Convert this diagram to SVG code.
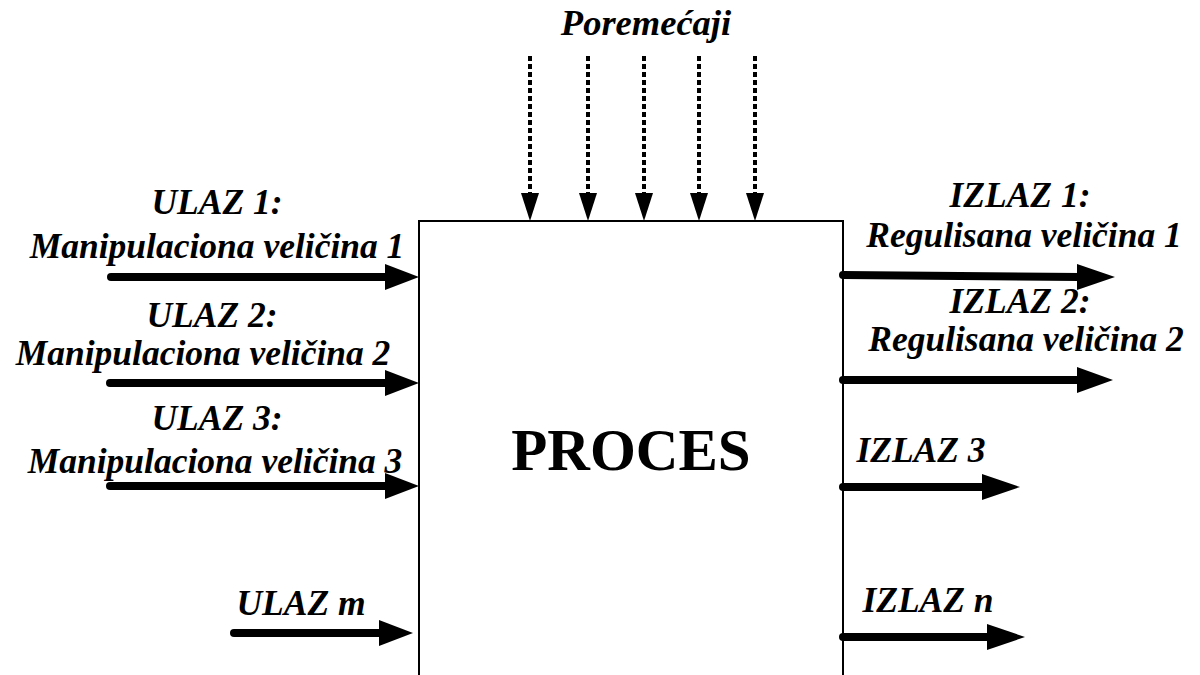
<svg xmlns="http://www.w3.org/2000/svg" width="1200" height="675" viewBox="0 0 1200 675">
  <defs>
    <style>
      .lbl { font-family: "Liberation Serif", "Times New Roman", serif; font-weight: bold; font-style: italic; font-size: 35.5px; fill: #000; }
      .title { font-family: "Liberation Serif", "Times New Roman", serif; font-weight: bold; font-size: 59px; fill: #000; }
      .flow { stroke: #000; stroke-width: 8; stroke-linecap: round; fill: none; }
      .dist { stroke: #000; stroke-width: 4; stroke-dasharray: 5 3; fill: none; }
      .head { fill: #000; }
    </style>
  </defs>
  <rect width="1200" height="675" fill="#fff"/>

  <!-- process block (open at the bottom) -->
  <g id="proces">
    <path d="M419 675 V221 H843 V675" fill="none" stroke="#000" stroke-width="2"/>
    <text class="title" x="631" y="470" text-anchor="middle">PROCES</text>
  </g>

  <!-- disturbance label -->
  <g id="poremecaji">
    <text class="lbl" x="646" y="35" text-anchor="middle" style="font-size:36.5px">Poremećaji</text>
  </g>

  <!-- input labels -->
  <g id="ulaz1">
    <text class="lbl" x="217" y="214" text-anchor="middle">ULAZ 1:</text>
    <text class="lbl" x="217" y="258" text-anchor="middle">Manipulaciona veličina 1</text>
  </g>
  <g id="ulaz2">
    <text class="lbl" x="212" y="327" text-anchor="middle">ULAZ 2:</text>
    <text class="lbl" x="203" y="365" text-anchor="middle">Manipulaciona veličina 2</text>
  </g>
  <g id="ulaz3">
    <text class="lbl" x="217" y="430" text-anchor="middle">ULAZ 3:</text>
    <text class="lbl" x="215" y="473" text-anchor="middle">Manipulaciona veličina 3</text>
  </g>
  <g id="ulazm">
    <text class="lbl" x="301" y="615" text-anchor="middle">ULAZ m</text>
  </g>

  <!-- output labels -->
  <g id="izlaz1">
    <text class="lbl" x="1020" y="207" text-anchor="middle">IZLAZ 1:</text>
    <text class="lbl" x="1024" y="247" text-anchor="middle">Regulisana veličina 1</text>
  </g>
  <g id="izlaz2">
    <text class="lbl" x="1020" y="313" text-anchor="middle">IZLAZ 2:</text>
    <text class="lbl" x="1026" y="351" text-anchor="middle">Regulisana veličina 2</text>
  </g>
  <g id="izlaz3">
    <text class="lbl" x="921" y="462" text-anchor="middle">IZLAZ 3</text>
  </g>
  <g id="izlazn">
    <text class="lbl" x="928" y="612" text-anchor="middle">IZLAZ n</text>
  </g>

  <g id="connectors">
    <!-- disturbances entering from above -->
    <g>
      <line class="dist" x1="530" y1="56" x2="530" y2="196"/>
      <polygon class="head" points="521,193 539,193 530,221"/>
      <line class="dist" x1="588" y1="56" x2="588" y2="196"/>
      <polygon class="head" points="579,193 597,193 588,221"/>
      <line class="dist" x1="644" y1="56" x2="644" y2="196"/>
      <polygon class="head" points="635,193 653,193 644,221"/>
      <line class="dist" x1="699" y1="56" x2="699" y2="196"/>
      <polygon class="head" points="690,193 708,193 699,221"/>
      <line class="dist" x1="755" y1="56" x2="755" y2="196"/>
      <polygon class="head" points="746,193 764,193 755,221"/>
    </g>
    <!-- inputs -->
    <g>
      <line class="flow" x1="111" y1="277" x2="388" y2="277"/>
      <polygon class="head" points="385,264 419,277 385,290"/>
      <line class="flow" x1="110" y1="383" x2="388" y2="383"/>
      <polygon class="head" points="385,370 419,383 385,396"/>
      <line class="flow" x1="110" y1="486" x2="388" y2="486"/>
      <polygon class="head" points="385,473 419,486 385,499"/>
      <line class="flow" x1="234" y1="633" x2="382" y2="633"/>
      <polygon class="head" points="379,620 413,633 379,646"/>
    </g>
    <!-- outputs -->
    <g>
      <line class="flow" x1="843" y1="275" x2="1080" y2="277" stroke-linecap="butt"/>
      <polygon class="head" points="1077,264 1115,277 1077,290"/>
      <line class="flow" x1="843" y1="380" x2="1080" y2="380" stroke-linecap="butt"/>
      <polygon class="head" points="1077,367 1113,380 1077,393"/>
      <line class="flow" x1="843" y1="487" x2="985" y2="487" stroke-linecap="butt"/>
      <polygon class="head" points="982,474 1020,487 982,500"/>
      <line class="flow" x1="843" y1="637" x2="990" y2="637" stroke-linecap="butt"/>
      <polygon class="head" points="987,624 1025,637 987,650"/>
    </g>
  </g>
</svg>
